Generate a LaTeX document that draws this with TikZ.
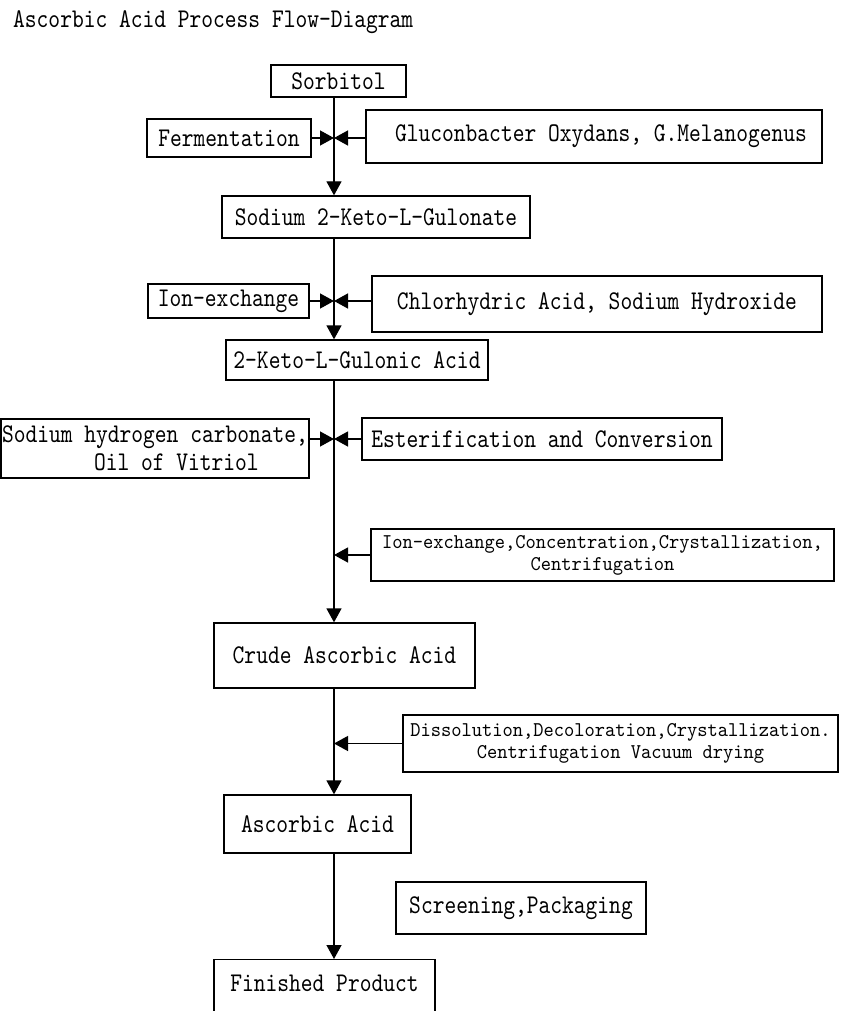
\documentclass[tikz,border=0pt]{standalone}
\usepackage{fontspec}
\usepackage{tikz}
\usetikzlibrary{arrows.meta}

\newfontfamily\boxfont[FakeStretch=0.83]{lmmono10-regular.otf}
\newfontfamily\notefont[FakeStretch=0.93]{lmmono10-regular.otf}

\tikzset{
  box/.style={draw, line width=1.3pt, inner sep=0pt, font=\boxfont\fontsize{27}{28}\selectfont},
  note/.style={box, align=center, font=\notefont\fontsize{21}{22}\selectfont},
  flow/.style={line width=1.3pt, -{Triangle[length=14pt,width=15pt]}}
}

\begin{document}
\begin{tikzpicture}[x=1pt,y=-1pt]
\clip (0,0) rectangle (843,1011);
\coordinate (spine) at (334,0);

\node[anchor=base west, inner sep=0pt, font=\boxfont\fontsize{27}{28}\selectfont] (title) at (13,28) {Ascorbic Acid Process Flow-Diagram};

\node[box, minimum width=135pt, minimum height=32pt] (sorb) at (338.5,81) {Sorbitol};
\node[box, minimum width=164pt, minimum height=38pt] (ferm) at (229,138) {Fermentation};
\node[box, minimum width=456pt, minimum height=53pt] (gluc) at (594,136.5) {\hspace*{14pt}Gluconbacter Oxydans, G.Melanogenus};
\node[box, minimum width=308pt, minimum height=42pt] (sodium) at (376,217) {Sodium 2-Keto-L-Gulonate};
\node[box, minimum width=161pt, minimum height=34pt] (ionx) at (228.5,301) {Ion-exchange};
\node[box, minimum width=450pt, minimum height=56pt] (chlor) at (597,304) {Chlorhydric Acid, Sodium Hydroxide};
\node[box, minimum width=262pt, minimum height=40pt] (keto) at (357,360) {2-Keto-L-Gulonic Acid};
\node[box, align=left, minimum width=308pt, minimum height=59pt] (soda) at (155,448.5) {Sodium hydrogen carbonate,\\\hspace*{92pt}Oil of Vitriol};
\node[box, minimum width=360pt, minimum height=42pt] (ester) at (542,439) {Esterification and Conversion};
\node[note, minimum width=463pt, minimum height=52pt] (conc) at (602.5,555) {Ion-exchange,Concentration,Crystallization,\\Centrifugation};
\node[box, minimum width=261pt, minimum height=65pt] (crude) at (344.5,655.5) {Crude Ascorbic Acid};
\node[note, minimum width=435pt, minimum height=57pt] (diss) at (620.5,743.5) {Dissolution,Decoloration,Crystallization.\\Centrifugation Vacuum drying};
\node[box, minimum width=187pt, minimum height=58pt] (asc) at (317.5,824) {Ascorbic Acid};
\node[box, minimum width=250pt, minimum height=52pt] (screen) at (521,908) {Screening,Packaging};
\node[box, anchor=north, minimum width=221pt, text height=32pt, text depth=39pt] (fin) at (324.5,959) {Finished Product};

\draw[flow] (sorb.south -| spine) -- (sodium.north -| spine);
\draw[flow] (ferm.east) -- (ferm.east -| spine);
\draw[flow] (gluc.west |- ferm.east) -- (ferm.east -| spine);
\draw[flow] (sodium.south -| spine) -- (keto.north -| spine);
\draw[flow] (ionx.east) -- (ionx.east -| spine);
\draw[flow] (chlor.west |- ionx.east) -- (ionx.east -| spine);
\draw[flow] (keto.south -| spine) -- (crude.north -| spine);
\draw[flow] (soda.east |- ester.west) -- (ester.west -| spine);
\draw[flow] (ester.west) -- (ester.west -| spine);
\draw[flow] (conc.west) -- (conc.west -| spine);
\draw[flow] (crude.south -| spine) -- (asc.north -| spine);
\draw[flow] (diss.west) -- (diss.west -| spine);
\draw[flow] (asc.south -| spine) -- (fin.north -| spine);
\end{tikzpicture}
\end{document}
